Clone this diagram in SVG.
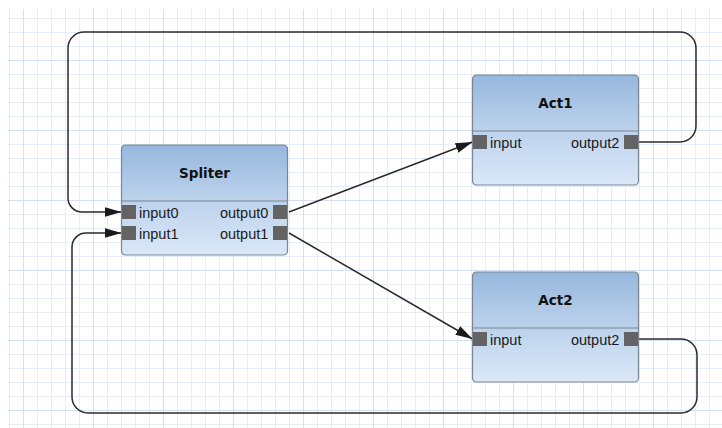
<svg xmlns="http://www.w3.org/2000/svg" width="722" height="428" viewBox="0 0 722 428">
  <defs>
    <pattern id="grid" patternUnits="userSpaceOnUse" x="23" y="-10" width="70" height="70">
      <rect x="0" y="0" width="70" height="70" fill="#ffffff"/>
      <g fill="#e4edf8">
        <rect x="14" y="0" width="1" height="70"/>
        <rect x="28" y="0" width="1" height="70"/>
        <rect x="42" y="0" width="1" height="70"/>
        <rect x="56" y="0" width="1" height="70"/>
        <rect x="0" y="14" width="70" height="1"/>
        <rect x="0" y="28" width="70" height="1"/>
        <rect x="0" y="42" width="70" height="1"/>
        <rect x="0" y="56" width="70" height="1"/>
      </g>
      <g fill="#d3e1f3">
        <rect x="0" y="0" width="1" height="70"/>
        <rect x="0" y="0" width="70" height="1"/>
      </g>
    </pattern>
    <linearGradient id="nodeFill" x1="0" y1="0" x2="0" y2="1">
      <stop offset="0" stop-color="#96b7dd"/>
      <stop offset="0.5" stop-color="#bcd2ec"/>
      <stop offset="1" stop-color="#dae8f8"/>
    </linearGradient>
    <marker id="arrow" markerUnits="userSpaceOnUse" markerWidth="18" markerHeight="11" refX="17" refY="5" orient="auto">
      <path d="M0,0 L17,5 L0,10 z" fill="#1a1a1a"/>
    </marker>
    <style>
      .box { fill: url(#nodeFill); stroke: #7d8590; stroke-width: 1.2; }
      .divider { stroke: #7a828c; stroke-width: 1.2; }
      .port { fill: #636363; }
      .title { font-family: "DejaVu Sans", sans-serif; font-weight: bold; font-size: 13.5px; fill: #111; text-anchor: middle; }
      .lbl { font-family: "Liberation Sans", Arial, sans-serif; font-size: 14.5px; fill: #1a1a1a; }
      .end { text-anchor: end; }
      .conn { fill: none; stroke: #2a2a2a; stroke-width: 1.5; }
    </style>
  </defs>

  <rect x="0" y="0" width="722" height="428" fill="#ffffff"/>
  <rect x="8" y="9" width="714" height="419" fill="url(#grid)"/>

  <g id="connectors">
    <path class="conn" marker-end="url(#arrow)" d="M639,142 H680 A16,16 0 0 0 696,126 V48 A16,16 0 0 0 680,32 H84 A16,16 0 0 0 68,48 V198 A14,14 0 0 0 82,212 H121.5"/>
    <path class="conn" marker-end="url(#arrow)" d="M639,339 H681 A16,16 0 0 1 697,355 V397 A16,16 0 0 1 681,413 H88 A16,16 0 0 1 72,397 V247 A14,14 0 0 1 86,233 H121.5"/>
    <path class="conn" marker-end="url(#arrow)" d="M289,212 L472.5,142"/>
    <path class="conn" marker-end="url(#arrow)" d="M289,233 L472.5,339"/>
  </g>

  <g id="Spliter" transform="translate(121.5,145)">
    <rect class="box" x="0" y="0" width="166" height="110" rx="4"/>
    <line class="divider" x1="0" y1="56" x2="166" y2="56"/>
    <text class="title" x="83" y="32.5">Spliter</text>
    <rect class="port" x="0.5" y="60" width="14" height="14"/>
    <rect class="port" x="0.5" y="81" width="14" height="14"/>
    <rect class="port" x="151.5" y="60" width="14" height="14"/>
    <rect class="port" x="151.5" y="81" width="14" height="14"/>
    <text class="lbl" x="17.5" y="73.3">input0</text>
    <text class="lbl" x="17.5" y="94.3">input1</text>
    <text class="lbl end" x="146.8" y="73.3">output0</text>
    <text class="lbl end" x="146.8" y="94.3">output1</text>
  </g>

  <g id="Act1" transform="translate(472.5,75)">
    <rect class="box" x="0" y="0" width="166" height="110" rx="4"/>
    <line class="divider" x1="0" y1="56" x2="166" y2="56"/>
    <text class="title" x="83" y="32.5">Act1</text>
    <rect class="port" x="0.5" y="60" width="14" height="14"/>
    <rect class="port" x="151.5" y="60" width="14" height="14"/>
    <text class="lbl" x="17.5" y="73">input</text>
    <text class="lbl end" x="146.8" y="73">output2</text>
  </g>

  <g id="Act2" transform="translate(472.5,272)">
    <rect class="box" x="0" y="0" width="166" height="110" rx="4"/>
    <line class="divider" x1="0" y1="56" x2="166" y2="56"/>
    <text class="title" x="83" y="32.5">Act2</text>
    <rect class="port" x="0.5" y="60" width="14" height="14"/>
    <rect class="port" x="151.5" y="60" width="14" height="14"/>
    <text class="lbl" x="17.5" y="73">input</text>
    <text class="lbl end" x="146.8" y="73">output2</text>
  </g>
</svg>
